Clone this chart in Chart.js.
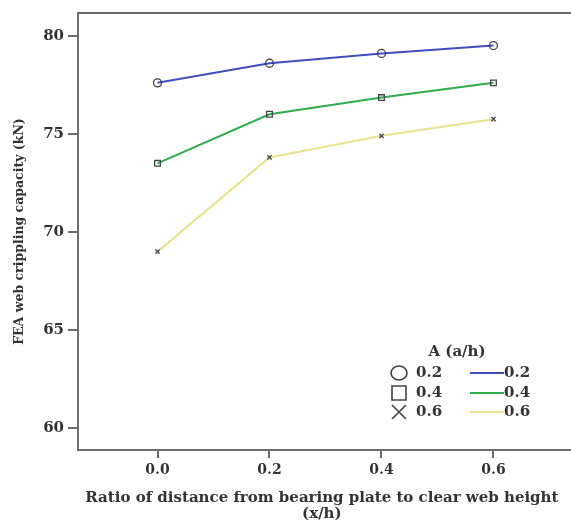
<!DOCTYPE html>
<html>
<head>
  <meta charset="UTF-8" />
  <title>FEA web crippling capacity</title>
  <style>
    body { margin: 0; background: #fff; }
    #wrap { position: relative; width: 571px; height: 522px; }
  </style>
</head>
<body>
  <div id="wrap"><canvas id="chart" width="571" height="522"></canvas></div>

  <script src="https://cdn.jsdelivr.net/npm/chart.js"></script>
  <script>
    // x/h ratio
    const xValues = [0.0, 0.2, 0.4, 0.6];
    // a/h = 0.2, 0.4, 0.6
    const series02 = [77.6, 78.6, 79.1, 79.5];
    const series04 = [73.5, 76.0, 76.85, 77.6];
    const series06 = [69.0, 73.8, 74.9, 75.75];
    const seriesLabels = ["0.2", "0.4", "0.6"];
    const xTicks = [0.0, 0.2, 0.4, 0.6];
    const yTicks = [60, 65, 70, 75, 80];

    const FONT = "'DejaVu Serif', 'Liberation Serif', serif";
    const axisGrey = "#6b6b6b";
    const colors = ["#3d4fbf", "#2fae4b", "#e7e38c"];
    const markers = ["circle", "rect", "crossRot"];

    function pts(ys) { return xValues.map((x, i) => ({ x: x, y: ys[i] })); }

    // frame runs off the right edge of the picture + custom legend
    const framePlugin = {
      id: "frame",
      afterDraw(chart) {
        const c = chart.ctx, a = chart.chartArea;
        c.save();
        c.strokeStyle = axisGrey;
        c.lineWidth = 2;
        c.beginPath();
        c.moveTo(a.left, a.top);
        c.lineTo(chart.width, a.top);
        c.moveTo(a.right - 1, a.bottom);
        c.lineTo(chart.width, a.bottom);
        c.stroke();

        // legend
        c.fillStyle = "#333";
        c.font = "bold 15px " + FONT;
        c.textAlign = "center";
        c.textBaseline = "middle";
        c.fillText("A (a/h)", 457, 352);
        c.textAlign = "left";
        const rows = [373, 393, 412];
        rows.forEach((y, i) => {
          // marker symbol
          c.strokeStyle = "#444";
          c.lineWidth = 1.6;
          c.beginPath();
          if (i === 0) {
            c.ellipse(399, y, 8, 7, 0, 0, Math.PI * 2);
          } else if (i === 1) {
            c.rect(392, y - 7, 14, 14);
          } else {
            c.moveTo(392, y - 7); c.lineTo(406, y + 7);
            c.moveTo(406, y - 7); c.lineTo(392, y + 7);
          }
          c.stroke();
          c.fillStyle = "#333";
          c.fillText(seriesLabels[i], 416, y);
          // line sample
          c.strokeStyle = colors[i];
          c.lineWidth = 2;
          c.beginPath();
          c.moveTo(470, y); c.lineTo(504, y);
          c.stroke();
          c.fillText(seriesLabels[i], 504, y);
        });
        c.restore();
      }
    };

    const ds = (ys, i) => ({
      label: seriesLabels[i],
      data: pts(ys),
      borderColor: colors[i],
      borderWidth: 2,
      pointStyle: markers[i],
      pointRadius: i === 2 ? 3 : 4,
      pointBorderColor: "#444",
      pointBorderWidth: 1.3,
      pointBackgroundColor: "rgba(0,0,0,0)",
      tension: 0
    });

    new Chart(document.getElementById("chart"), {
      type: "line",
      data: { datasets: [ds(series02, 0), ds(series04, 1), ds(series06, 2)] },
      options: {
        responsive: false,
        animation: false,
        layout: { padding: { top: 10, right: 0, left: 0, bottom: 0 } },
        plugins: { legend: { display: false }, tooltip: { enabled: false } },
        scales: {
          x: {
            type: "linear",
            min: -0.142,
            max: 0.729,
            afterBuildTicks: s => { s.ticks = xTicks.map(v => ({ value: v })); },
            afterFit: s => { s.height = 72; },
            grid: { drawOnChartArea: false, tickLength: 8, color: axisGrey, lineWidth: 2 },
            border: { color: axisGrey, width: 2 },
            ticks: {
              color: "#333",
              padding: 4,
              font: { family: FONT, size: 14, weight: "bold" },
              callback: v => Number(v).toFixed(1)
            },
            title: {
              display: true,
              text: ["Ratio of distance from bearing plate to clear web height", "(x/h)"],
              color: "#333",
              font: { family: FONT, size: 15, weight: "bold", lineHeight: 1.05 },
              padding: { top: 3, bottom: 0 }
            }
          },
          y: {
            min: 58.89,
            max: 81.16,
            afterBuildTicks: s => { s.ticks = yTicks.map(v => ({ value: v })); },
            afterFit: s => { s.width = 78; },
            grid: { drawOnChartArea: false, tickLength: 10, color: axisGrey, lineWidth: 2 },
            border: { color: axisGrey, width: 2 },
            ticks: {
              color: "#333",
              padding: 4,
              font: { family: FONT, size: 15, weight: "bold" }
            },
            title: {
              display: true,
              text: "FEA web crippling capacity (kN)",
              color: "#333",
              font: { family: FONT, size: 12.5, weight: "bold" },
              padding: { top: 12, bottom: 0 }
            }
          }
        }
      },
      plugins: [framePlugin]
    });
  </script>
</body>
</html>
